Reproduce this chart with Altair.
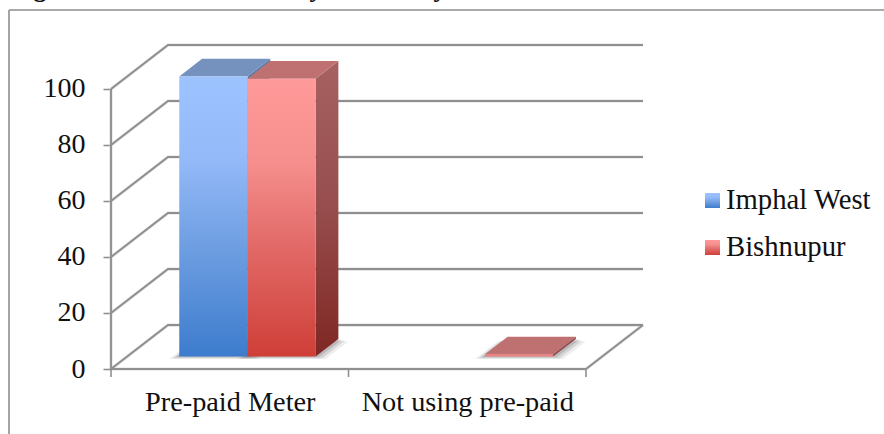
import altair as alt
import pandas as pd

# Values and labels
categories = ["Pre-paid Meter", "Not using pre-paid"]
series = ["Imphal West", "Bishnupur"]
imphal_west = [100, 0]
bishnupur = [99.2, 0.8]
y_ticks = [0, 20, 40, 60, 80, 100]
x_ticks = [0, 1, 2]

# Oblique projection: one unit of depth moves a point right and up
SHIFT_X = 0.24
SHIFT_Y = 15.7
BAR_DEPTH = (0.285, 0.685)
GAP = 0.219
BAR_W = 0.287

FONT = "Liberation Serif"
GRID = "#8f8f8f"
TEXT = "#111111"


def lg(*stops):
    return alt.LinearGradient(
        gradient="linear", x1=0, x2=0, y1=0, y2=1,
        stops=[alt.GradientStop(offset=o, color=c) for o, c in stops],
    )


FRONT = {
    "Imphal West": lg((0, "#9dc3ff"), (0.3, "#93b9f8"), (0.6, "#6f9fe2"), (1, "#3d7ccd")),
    "Bishnupur": lg((0, "#ff9a9a"), (0.3, "#f58f8d"), (0.6, "#e26a68"), (1, "#cf3f38")),
}
SIDE = {
    "Imphal West": lg((0, "#5f7da8"), (1, "#2a5a94")),
    "Bishnupur": lg((0, "#a66161"), (0.5, "#974d4d"), (1, "#7f2723")),
}
TOP = {"Imphal West": "#7592bf", "Bishnupur": "#bf7171"}
SLAB_FRONT = "#ee8080"

x_scale = alt.Scale(domain=[0, 2 + SHIFT_X], nice=False, zero=False)
y_scale = alt.Scale(domain=[0, 100 + SHIFT_Y], nice=False, zero=False)

# The same axis definitions go on every layer so that they merge into one
x_axis = alt.Axis(
    values=[0.5, 1.5], domain=False, grid=False, ticks=False, title=None,
    labelFont=FONT, labelFontSize=28.3, labelColor=TEXT, labelPadding=19,
    labelExpr=f"datum.value < 1 ? '{categories[0]}' : '{categories[1]}'",
    labelOverlap=False, labelFlush=False, labelLimit=400,
)
y_axis = alt.Axis(
    values=y_ticks, domain=False, grid=False, title=None, tickSize=8,
    tickColor=GRID, tickWidth=1.6, labelFont=FONT, labelFontSize=28,
    labelColor=TEXT, labelPadding=18, labelOverlap=False, labelFlush=False,
)
X = alt.X("x:Q", scale=x_scale, axis=x_axis)
Y = alt.Y("y:Q", scale=y_scale, axis=y_axis)

# Wall and floor lines
grid_rows = []
seg = 0
for v in y_ticks:
    pts = [(0, v), (SHIFT_X, v + SHIFT_Y), (2 + SHIFT_X, v + SHIFT_Y)]
    for px, py in pts:
        grid_rows.append({"x": px, "y": py, "seg": seg})
    seg += 1
for pts in ([(0, 0), (2, 0), (2 + SHIFT_X, SHIFT_Y)], [(0, 0), (0, 100)]):
    for px, py in pts:
        grid_rows.append({"x": px, "y": py, "seg": seg})
    seg += 1
grid = alt.Chart(pd.DataFrame(grid_rows)).mark_line(
    color=GRID, strokeWidth=1.9, clip=False
).encode(x=X, y=Y, detail="seg:N")
grid_soft = alt.Chart(pd.DataFrame(grid_rows)).mark_line(
    color="#c8c8c8", strokeWidth=3.2, opacity=0.55
).encode(x=X, y=Y, detail="seg:N")

x_marks = alt.Chart(pd.DataFrame({"x": x_ticks})).mark_rule(
    color=GRID, strokeWidth=1.6
).encode(x=X, y=alt.value(324), y2=alt.value(332))


def bar_x(cat, s):
    left = cat + GAP + BAR_W * s
    return left, left + BAR_W


def footprint(cat, s, grow, lift=0.0):
    x0, x1 = bar_x(cat, s)
    d0, d1 = BAR_DEPTH
    rows = []
    for d in (d0, d1):
        rows.append({
            "y": d * SHIFT_Y - lift,
            "x": x0 + d * SHIFT_X - grow,
            "x2": x1 + d * SHIFT_X + grow,
        })
    return rows


layers = [grid_soft, grid, x_marks]

# Soft shadow on the floor beneath each bar
for grow, lift, alpha in [(0.042, 0.9, 0.10), (0.028, 0.6, 0.16), (0.014, 0.3, 0.22)]:
    rows = []
    for c in range(len(categories)):
        for s, vals in enumerate((imphal_west, bishnupur)):
            if vals[c] > 0:
                for r in footprint(c, s, grow, lift):
                    r["key"] = f"{c}-{s}"
                    rows.append(r)
    layers.append(
        alt.Chart(pd.DataFrame(rows)).mark_area(
            orient="horizontal", color="#555555", opacity=alpha
        ).encode(x=X, x2="x2:Q", y=Y, detail="key:N")
    )

# Bars: side, top and front faces, from the values above
for c in range(len(categories)):
    for s, (name, vals) in enumerate(zip(series, (imphal_west, bishnupur))):
        v = vals[c]
        if v <= 0:
            continue
        x0, x1 = bar_x(c, s)
        d0, d1 = BAR_DEPTH
        tall = v > 10
        side = pd.DataFrame([
            {"x": x1 + d * SHIFT_X, "y": d * SHIFT_Y, "y2": v + d * SHIFT_Y}
            for d in (d0, d1)
        ])
        layers.append(alt.Chart(side).mark_area(
            color=SIDE[name] if tall else "#8e4a4a", orient="vertical"
        ).encode(x=X, y=Y, y2="y2:Q"))
        top = pd.DataFrame([
            {"y": v + d * SHIFT_Y, "x": x0 + d * SHIFT_X, "x2": x1 + d * SHIFT_X}
            for d in (d0, d1)
        ])
        layers.append(alt.Chart(top).mark_area(
            color=TOP[name], orient="horizontal"
        ).encode(x=X, x2="x2:Q", y=Y))
        front = pd.DataFrame([{
            "x": x0 + d0 * SHIFT_X, "x2": x1 + d0 * SHIFT_X,
            "y": d0 * SHIFT_Y, "y2": v + d0 * SHIFT_Y,
        }])
        layers.append(alt.Chart(front).mark_rect(
            color=FRONT[name] if tall else SLAB_FRONT
        ).encode(x=X, x2="x2:Q", y=Y, y2="y2:Q"))

# Legend, set out in pixels from the plot's corner
one = pd.DataFrame({"k": [0]})
for name, top_px in zip(series, (148, 195)):
    layers.append(alt.Chart(one).mark_rect(color=FRONT[name]).encode(
        x=alt.value(594), x2=alt.value(609), y=alt.value(top_px), y2=alt.value(top_px + 15),
    ))
    layers.append(alt.Chart(one).mark_text(
        text=name, align="left", baseline="alphabetic", font=FONT, fontSize=28.7, color=TEXT,
    ).encode(x=alt.value(615), y=alt.value(top_px + 16)))

# Chart frame and the line of heading text running out of view above it
layers.append(alt.Chart(one).mark_rule(color="#8e8e8e", strokeWidth=1.6).encode(
    x=alt.value(-102), x2=alt.value(773), y=alt.value(-35)))
layers.append(alt.Chart(one).mark_rule(color="#8e8e8e", strokeWidth=1.6).encode(
    x=alt.value(-102), y=alt.value(-35), y2=alt.value(389)))
for ch, px in (("g", 40), ("y", 316), ("y", 440)):
    layers.append(alt.Chart(one).mark_text(
        text=ch, align="center", baseline="alphabetic", font=FONT, fontSize=26,
        fontWeight="bold", color=TEXT,
    ).encode(x=alt.value(px - 111), y=alt.value(-48)))

chart = alt.layer(*layers).properties(
    width=532,
    height=324,
    padding={"left": 111, "top": 45, "right": 241, "bottom": 65},
    autosize=alt.AutoSizeParams(type="none"),
    background="white",
).configure_view(stroke=None)

chart.save("out.html", embed_options={"renderer": "svg", "actions": False})
